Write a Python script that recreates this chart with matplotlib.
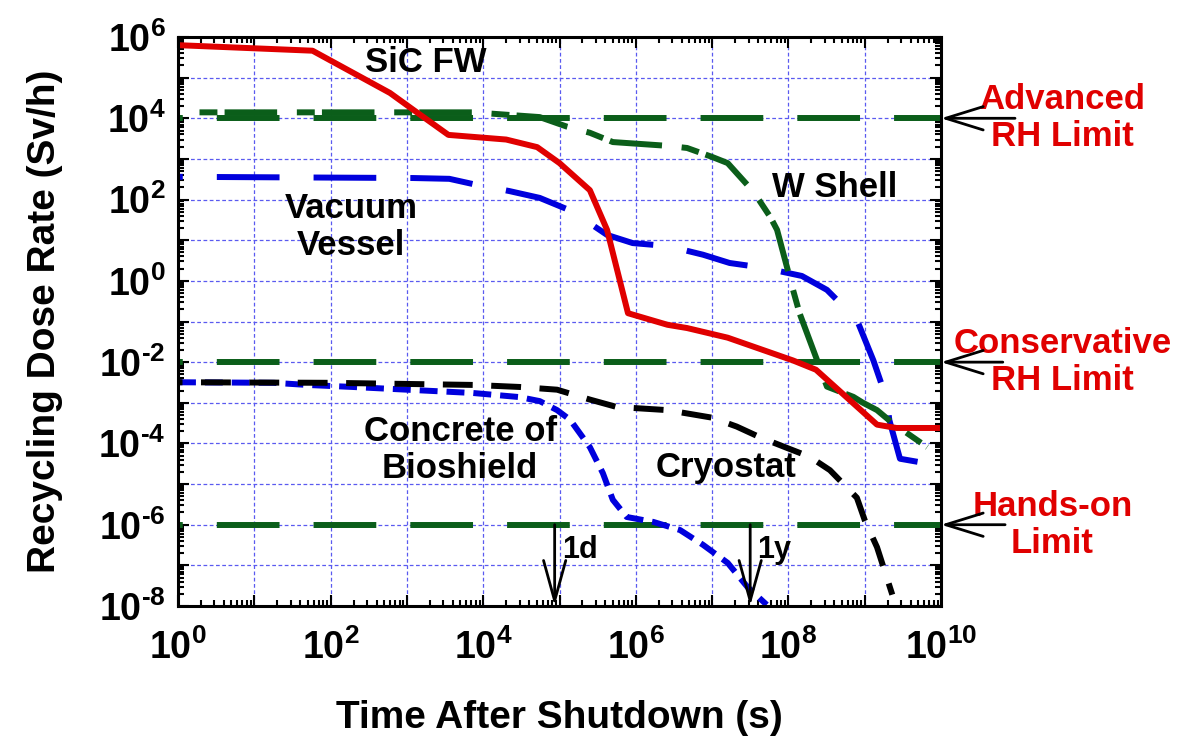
import matplotlib
matplotlib.use('Agg')
import matplotlib.pyplot as plt
from matplotlib.ticker import LogLocator, FuncFormatter, NullFormatter
import numpy as np

plt.rcParams['font.family'] = ['Liberation Sans', 'DejaVu Sans']
plt.rcParams['font.weight'] = 'bold'
plt.rcParams['mathtext.fontset'] = 'custom'
plt.rcParams['mathtext.rm'] = 'Liberation Sans:bold'
plt.rcParams['mathtext.default'] = 'rm'

# time after shutdown (s) and dose rate (Sv/h)
sic_t = [1, 58, 600, 1.35e3, 3.5e3, 2.0e4, 5.1e4, 1.0e5, 2.5e5, 4.2e5, 7.9e5,
         2.6e6, 4.7e6, 1.6e7, 1.15e8, 2.3e8, 1.45e9, 2.6e9, 1e10]
sic_dose = [6.3e5, 4.6e5, 4.2e4, 1.4e4, 3.9e3, 3.0e3, 1.95e3, 7.9e2, 1.7e2, 18, 0.16,
            0.083, 0.069, 0.040, 0.011, 6.5e-3, 2.9e-4, 2.4e-4, 2.4e-4]

wshell_t = [1, 7.4e3, 5.5e4, 1.26e5, 2.5e5, 5.0e5, 2.6e6, 4.7e6, 1.0e7, 1.6e7, 3.5e7,
            5.8e7, 7.1e7, 1.15e8, 1.4e8, 3.2e8, 7.1e8, 9.5e8, 1.45e9, 2.3e9, 6.6e9]
wshell_dose = [1.4e4, 1.4e4, 1.07e4, 6.2e3, 4.4e3, 2.6e3, 2.1e3, 1.86e3, 1.12e3, 7.9e2, 1.55e2,
               37, 18, 0.60, 0.16, 2.5e-3, 1.4e-3, 1.0e-3, 6.6e-4, 3.2e-4, 8.1e-5]

vv_t = [1, 1.2e3, 3.6e3, 7.4e3, 2.2e4, 5.5e4, 1.45e5, 4.2e5, 9.1e5, 2.6e6, 7.6e6,
        1.7e7, 4.7e7, 1.5e8, 3.2e8, 7.9e8, 1.3e9, 1.95e9, 2.1e9, 2.9e9, 1e10]
vv_dose = [363, 339, 324, 240, 162, 110, 52, 13.5, 8.5, 7.2, 4.4,
           2.75, 2.1, 1.32, 0.60, 0.11, 0.011, 1.2e-3, 3.8e-4, 4.2e-5, 2.8e-5]

cryo_t = [1, 98, 7.4e3, 3.0e4, 9.3e4, 2.5e5, 5.6e5, 2.6e6, 1.0e7, 2.1e7, 4.3e7,
          9.5e7, 1.9e8, 3.5e8, 7.9e8, 1.0e9, 1.45e9, 2.3e9]
cryo_dose = [3.2e-3, 3.1e-3, 2.75e-3, 2.45e-3, 2.1e-3, 1.2e-3, 7.9e-4, 6.6e-4, 4.3e-4, 2.6e-4, 1.4e-4,
             7.8e-5, 4.7e-5, 2.2e-5, 4.6e-6, 1.3e-6, 2.8e-7, 1.9e-8]

bio_t = [1, 18, 49, 195, 1.0e3, 7.4e3, 3.0e4, 5.5e4, 9.3e4, 1.38e5, 2.5e5,
         3.7e5, 5.0e5, 7.6e5, 1.7e6, 3.8e6, 7.6e6, 1.6e7, 2.9e7, 5.2e7]
bio_dose = [3.2e-3, 3.1e-3, 2.75e-3, 2.45e-3, 2.1e-3, 1.74e-3, 1.38e-3, 1.1e-3, 6.6e-4, 3.8e-4, 8.1e-5,
            1.86e-5, 4.1e-6, 1.55e-6, 1.17e-6, 7.4e-7, 3.2e-7, 1.15e-7, 2.95e-8, 1.07e-8]

limit_dose = [1e4, 1e-2, 1e-6]
limit_labels = ['Advanced\nRH Limit', 'Conservative\nRH Limit', 'Hands-on\nLimit']

marker_t = [86400, 3.156e7]
marker_labels = ['1d', '1y']

red = '#e00000'
blue = '#0000dd'
green = '#0b5e1a'
lw = 4.3

fig = plt.figure(figsize=(11.78, 7.44), dpi=100)
ax = fig.add_axes([178 / 1178, 1 - 606 / 744, 763 / 1178, 569 / 744])
ax.set_xscale('log')
ax.set_yscale('log')
ax.set_xlim(1, 1e10)
ax.set_ylim(1e-8, 1e6)


def fmt(v, pos):
    e = int(round(np.log10(v)))
    if e % 2:
        return ''
    if e < 0:
        return r'$10^{\text{-}%d}$' % (-e)
    return r'$10^{%d}$' % e


for axis in (ax.xaxis, ax.yaxis):
    axis.set_major_locator(LogLocator(base=10, numticks=30))
    axis.set_minor_locator(LogLocator(base=10, subs=np.arange(2, 10), numticks=30))
    axis.set_major_formatter(FuncFormatter(fmt))
    axis.set_minor_formatter(NullFormatter())

ax.tick_params(which='both', direction='in', top=True, right=True, width=1.5)
ax.tick_params(which='major', length=8, labelsize=27)
ax.tick_params(axis='x', which='major', pad=17)
ax.tick_params(axis='y', which='major', pad=9)
ax.tick_params(which='minor', length=4)
for s in ax.spines.values():
    s.set_linewidth(2.2)

ax.grid(True, which='major', color='#5a5af0', linestyle=(0, (3, 2)), linewidth=0.9)
ax.set_axisbelow(True)

for v in limit_dose:
    ax.axhline(v, color=green, lw=lw, linestyle=(9.7, (10.5, 5.7)), dash_capstyle='butt')

ax.plot(bio_t, bio_dose, color=blue, lw=lw, linestyle=(0, (3, 1.5)), dash_capstyle='butt')
ax.plot(cryo_t, cryo_dose, color='black', lw=lw, linestyle=(4.25, (5, 3.1)), dash_capstyle='butt')
ax.plot(vv_t, vv_dose, color=blue, lw=lw, linestyle=(9.7, (10.5, 5.7)), dash_capstyle='butt')
ax.plot(wshell_t, wshell_dose, color=green, lw=lw, linestyle=(8.5, (8.8, 3.3, 3, 1.2)),
        dash_capstyle='butt')
ax.plot(sic_t, sic_dose, color=red, lw=lw, solid_capstyle='butt')

# curve labels
ax.text(1778, 2.4e5, 'SiC FW', fontsize=25, ha='center', va='center')
ax.text(186, 21, 'Vacuum\nVessel', fontsize=25, ha='center', va='center', linespacing=1.15)
ax.text(4.0e8, 195, 'W Shell', fontsize=25, ha='center', va='center')
ax.text(5000, 6.9e-5, 'Concrete of\nBioshield', fontsize=25, ha='center', va='center',
        linespacing=1.15)
ax.text(1.5e7, 2.6e-5, 'Cryostat', fontsize=25, ha='center', va='center')

# limit labels with arrows on the right
trans = ax.get_yaxis_transform()
label_x = [1.159, 1.159, 1.146]
arrow_x = [1.097, 1.081, 1.084]
for v, lab, lx, axx in zip(limit_dose, limit_labels, label_x, arrow_x):
    ax.text(lx, v, lab, transform=trans, color=red, fontsize=25, ha='center', va='center',
            linespacing=1.15, clip_on=False)
    ax.annotate('', xy=(1, v), xycoords=trans, xytext=(axx, v), textcoords=trans,
                arrowprops=dict(arrowstyle='->,head_length=1.35,head_width=0.42', lw=2,
                                color='black', shrinkA=0, shrinkB=0, mutation_scale=20),
                annotation_clip=False)

# 1 day / 1 year markers
for t, lab in zip(marker_t, marker_labels):
    ax.annotate('', xy=(t, 1e-8), xytext=(t, 1e-6),
                arrowprops=dict(arrowstyle='->,head_length=1.45,head_width=0.4', lw=2,
                                color='black', shrinkA=0, shrinkB=0, mutation_scale=20))
    ax.text(t * 1.25, 2.4e-7, lab, fontsize=22, ha='left', va='center')

ax.set_xlabel('Time After Shutdown (s)', fontsize=28, fontweight='bold')
ax.xaxis.label.set_verticalalignment('center')
ax.xaxis.set_label_coords(0.5, (606 - 718) / 569)
ax.set_ylabel('Recycling Dose Rate (Sv/h)', fontsize=28, fontweight='bold')
ax.yaxis.label.set_verticalalignment('center')
ax.yaxis.set_label_coords((45 - 178) / 763, 0.5)

fig.savefig('out.png', dpi=100)
